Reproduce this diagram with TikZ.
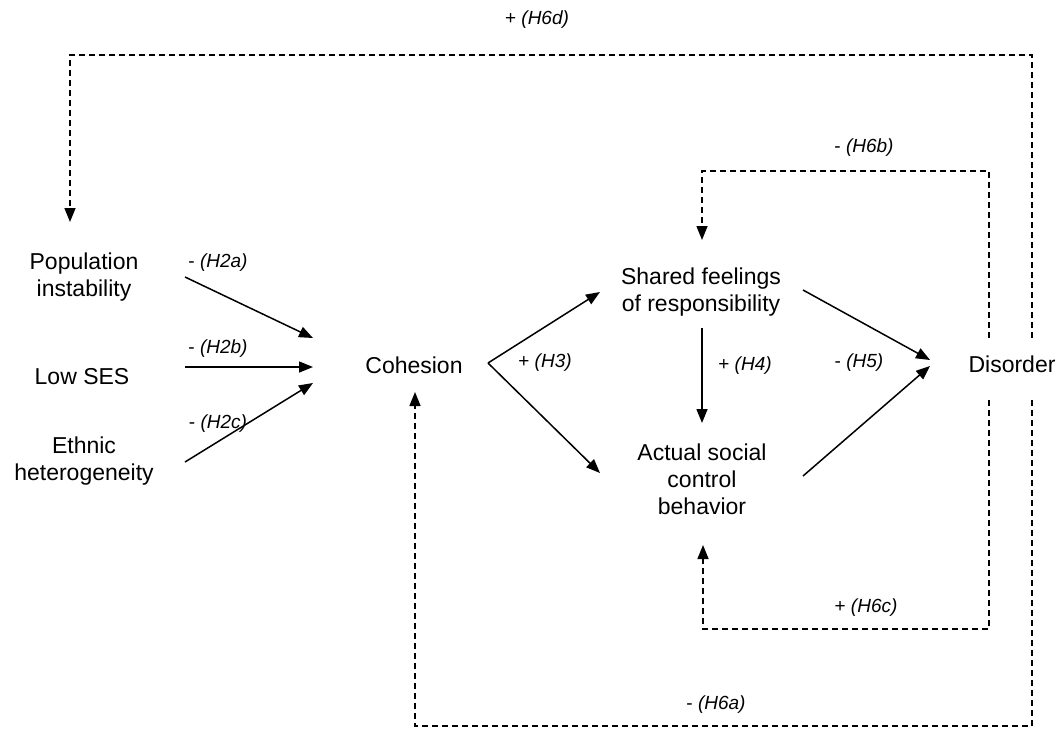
\documentclass[tikz,border=0pt]{standalone}
\usepackage{fontspec}
\setmainfont{Liberation Sans}
\usetikzlibrary{arrows.meta}
\begin{document}
\begin{tikzpicture}[x=1pt,y=-1pt,
  var/.style={inner sep=0pt, align=center, font=\fontsize{23}{27}\selectfont},
  hyp/.style={inner sep=0pt, font=\fontsize{19}{22}\selectfont},
  arr/.style={line width=1.5pt, -{Triangle[length=14pt,width=11pt]}},
  darr/.style={line width=1.5pt, dash pattern=on 6pt off 4pt, -{Triangle[length=14pt,width=11pt]}}]
\useasboundingbox (0,0) rectangle (1064,731);
% variables
\node[var] (pop) at (84,277) {Population\\instability};
\node[var] (ses) at (82,377) {Low SES};
\node[var] (eth) at (84,461) {Ethnic\\heterogeneity};
\node[var] (coh) at (414,365) {Cohesion};
\node[var] (sha) at (701,292) {Shared feelings\\of responsibility};
\node[var] (act) at (702,479) {Actual social\\control\\behavior};
\node[var] (dis) at (1012,364) {Disorder};
% connector end points
\coordinate (popE) at (185,277);
\coordinate (sesE) at (185,367);
\coordinate (ethE) at (185,462);
\coordinate (cohA) at (313,338);
\coordinate (cohB) at (313,367);
\coordinate (cohC) at (313,383);
\coordinate (apex) at (488,363);
\coordinate (shaW) at (600,292);
\coordinate (actW) at (600,473);
\coordinate (shaS) at (702,328);
\coordinate (actN) at (702,423);
\coordinate (shaE) at (803,290);
\coordinate (actE) at (803,476);
\coordinate (disA) at (930,360);
\coordinate (disB) at (930,366);
\coordinate (disNi) at (989,338);
\coordinate (disNo) at (1032,338);
\coordinate (disSi) at (989,400);
\coordinate (disSo) at (1032,400);
\coordinate (shaT) at (702,240);
\coordinate (popT) at (70,222);
\coordinate (actB) at (703,545);
\coordinate (cohB2) at (415,392);
% solid arrows
\draw[arr] (popE) -- (cohA);
\draw[arr] (sesE) -- (cohB);
\draw[arr] (ethE) -- (cohC);
\draw[arr] (apex) -- (shaW);
\draw[arr] (apex) -- (actW);
\draw[arr] (shaS) -- (actN);
\draw[arr] (shaE) -- (disA);
\draw[arr] (actE) -- (disB);
% dashed feedback arrows
\draw[darr] (disNi) -- (989,171) -- (702,171) -- (shaT);
\draw[darr] (disNo) -- (1032,55) -- (70,55) -- (popT);
\draw[darr] (disSi) -- (989,629) -- (703,629) -- (actB);
\draw[darr] (disSo) -- (1032,726) -- (415,726) -- (cohB2);
% labels
\node[hyp] (l2a) at (218,263) {- \textit{(H2a)}};
\node[hyp] (l2b) at (218,349) {- \textit{(H2b)}};
\node[hyp] (l2c) at (218,424) {- \textit{(H2c)}};
\node[hyp] (l3) at (545,363) {+ \textit{(H3)}};
\node[hyp] (l4) at (745,366) {+ \textit{(H4)}};
\node[hyp] (l5) at (859,363) {- \textit{(H5)}};
\node[hyp] (l6b) at (864,148) {- \textit{(H6b)}};
\node[hyp] (l6d) at (537,20) {+ \textit{(H6d)}};
\node[hyp] (l6c) at (866,608) {+ \textit{(H6c)}};
\node[hyp] (l6a) at (716,705) {- \textit{(H6a)}};
\end{tikzpicture}
\end{document}
